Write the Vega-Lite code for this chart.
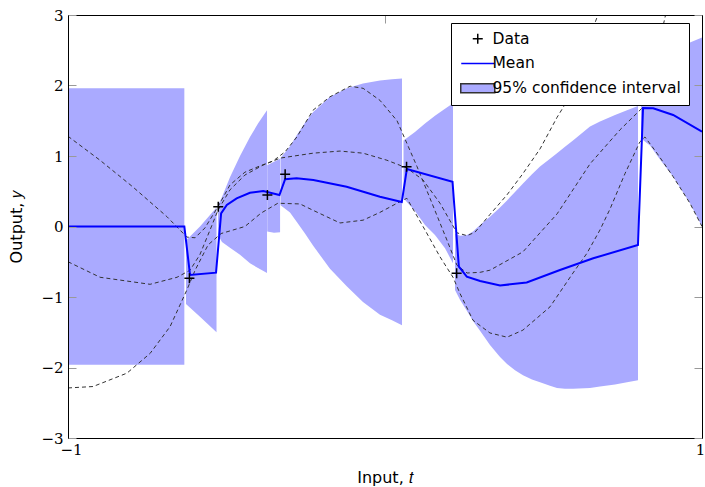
{
  "$schema": "https://vega.github.io/schema/vega-lite/v6.json",
  "width": 634,
  "height": 423,
  "autosize": {"type": "none"},
  "padding": {"left": 68, "top": 15, "right": 3, "bottom": 49},
  "background": "white",
  "config": {"view": {"stroke": null}},
  "datasets": {
    "band": [
      {"seg": "A", "x": -1.0, "lo": -1.96, "hi": 1.96},
      {"seg": "A", "x": -0.633, "lo": -1.96, "hi": 1.96},
      {"seg": "B", "x": -0.6278, "lo": -1.10, "hi": -0.20},
      {"seg": "B", "x": -0.5836, "lo": -1.28, "hi": 0.0},
      {"seg": "B", "x": -0.5315, "lo": -1.50, "hi": 0.27},
      {"seg": "C", "x": -0.5268, "lo": -0.12, "hi": 0.30},
      {"seg": "C", "x": -0.5142, "lo": -0.22, "hi": 0.42},
      {"seg": "C", "x": -0.4890, "lo": -0.30, "hi": 0.70},
      {"seg": "C", "x": -0.4574, "lo": -0.40, "hi": 1.00},
      {"seg": "C", "x": -0.4259, "lo": -0.52, "hi": 1.27},
      {"seg": "C", "x": -0.4006, "lo": -0.59, "hi": 1.46},
      {"seg": "C", "x": -0.3722, "lo": -0.66, "hi": 1.65},
      {"seg": "D", "x": -0.3715, "lo": -0.07, "hi": 0.87},
      {"seg": "D", "x": -0.3502, "lo": -0.09, "hi": 0.92},
      {"seg": "D", "x": -0.3310, "lo": -0.08, "hi": 0.96},
      {"seg": "E", "x": -0.3295, "lo": 0.30, "hi": 0.97},
      {"seg": "E", "x": -0.2997, "lo": 0.20, "hi": 1.14},
      {"seg": "E", "x": -0.2776, "lo": 0.06, "hi": 1.30},
      {"seg": "E", "x": -0.2524, "lo": -0.10, "hi": 1.47},
      {"seg": "E", "x": -0.2271, "lo": -0.27, "hi": 1.62},
      {"seg": "E", "x": -0.1735, "lo": -0.60, "hi": 1.84},
      {"seg": "E", "x": -0.1199, "lo": -0.85, "hi": 1.96},
      {"seg": "E", "x": -0.0694, "lo": -1.07, "hi": 2.03},
      {"seg": "E", "x": -0.0158, "lo": -1.25, "hi": 2.07},
      {"seg": "E", "x": 0.0221, "lo": -1.33, "hi": 2.09},
      {"seg": "E", "x": 0.0536, "lo": -1.40, "hi": 2.10},
      {"seg": "F", "x": 0.0584, "lo": 0.40, "hi": 1.22},
      {"seg": "F", "x": 0.0946, "lo": 0.22, "hi": 1.34},
      {"seg": "F", "x": 0.1262, "lo": 0.02, "hi": 1.46},
      {"seg": "F", "x": 0.1577, "lo": -0.12, "hi": 1.57},
      {"seg": "F", "x": 0.1893, "lo": -0.31, "hi": 1.67},
      {"seg": "F", "x": 0.2145, "lo": -0.52, "hi": 1.75},
      {"seg": "G", "x": 0.2208, "lo": -0.90, "hi": -0.10},
      {"seg": "G", "x": 0.2366, "lo": -1.04, "hi": -0.13},
      {"seg": "G", "x": 0.2587, "lo": -1.20, "hi": -0.12},
      {"seg": "G", "x": 0.2776, "lo": -1.34, "hi": -0.07},
      {"seg": "G", "x": 0.2997, "lo": -1.48, "hi": 0.02},
      {"seg": "G", "x": 0.3312, "lo": -1.68, "hi": 0.14},
      {"seg": "G", "x": 0.3628, "lo": -1.85, "hi": 0.27},
      {"seg": "G", "x": 0.3849, "lo": -1.95, "hi": 0.37},
      {"seg": "G", "x": 0.4101, "lo": -2.04, "hi": 0.49},
      {"seg": "G", "x": 0.4353, "lo": -2.11, "hi": 0.61},
      {"seg": "G", "x": 0.4637, "lo": -2.17, "hi": 0.74},
      {"seg": "G", "x": 0.4890, "lo": -2.21, "hi": 0.85},
      {"seg": "G", "x": 0.5205, "lo": -2.26, "hi": 0.96},
      {"seg": "G", "x": 0.5426, "lo": -2.29, "hi": 1.04},
      {"seg": "G", "x": 0.5678, "lo": -2.30, "hi": 1.13},
      {"seg": "G", "x": 0.5930, "lo": -2.30, "hi": 1.22},
      {"seg": "G", "x": 0.6467, "lo": -2.29, "hi": 1.42},
      {"seg": "G", "x": 0.6782, "lo": -2.27, "hi": 1.49},
      {"seg": "G", "x": 0.7256, "lo": -2.24, "hi": 1.58},
      {"seg": "G", "x": 0.7634, "lo": -2.21, "hi": 1.65},
      {"seg": "G", "x": 0.7981, "lo": -2.18, "hi": 1.71},
      {"seg": "H", "x": 0.8076, "lo": 1.25, "hi": 2.05},
      {"seg": "H", "x": 0.8360, "lo": 1.15, "hi": 2.20},
      {"seg": "H", "x": 0.8675, "lo": 0.95, "hi": 2.32},
      {"seg": "H", "x": 0.9085, "lo": 0.71, "hi": 2.45},
      {"seg": "H", "x": 0.9621, "lo": 0.33, "hi": 2.61},
      {"seg": "H", "x": 1.0, "lo": 0.0, "hi": 2.68}
    ],
    "mean": [
      {"x": -1.0, "y": 0.0}, {"x": -0.633, "y": 0.0}, {"x": -0.615, "y": -0.688},
      {"x": -0.533, "y": -0.655}, {"x": -0.517, "y": 0.187}, {"x": -0.499, "y": 0.305},
      {"x": -0.468, "y": 0.40}, {"x": -0.426, "y": 0.479}, {"x": -0.384, "y": 0.504},
      {"x": -0.333, "y": 0.447}, {"x": -0.315, "y": 0.67}, {"x": -0.279, "y": 0.684},
      {"x": -0.226, "y": 0.66}, {"x": -0.121, "y": 0.565}, {"x": -0.016, "y": 0.423},
      {"x": 0.053, "y": 0.348}, {"x": 0.069, "y": 0.816}, {"x": 0.213, "y": 0.635},
      {"x": 0.229, "y": -0.333}, {"x": 0.233, "y": -0.57}, {"x": 0.258, "y": -0.712},
      {"x": 0.30, "y": -0.773}, {"x": 0.363, "y": -0.837}, {"x": 0.447, "y": -0.794},
      {"x": 0.552, "y": -0.617}, {"x": 0.657, "y": -0.451}, {"x": 0.798, "y": -0.262},
      {"x": 0.814, "y": 1.681}, {"x": 0.846, "y": 1.677}, {"x": 0.909, "y": 1.582},
      {"x": 1.0, "y": 1.345}
    ],
    "samples": [
      {"s": "P", "x": -1.0, "y": 1.28}, {"s": "P", "x": -0.899, "y": 0.94}, {"s": "P", "x": -0.795, "y": 0.56},
      {"s": "P", "x": -0.688, "y": 0.14}, {"s": "P", "x": -0.625, "y": -0.15}, {"s": "P", "x": -0.599, "y": -0.16},
      {"s": "P", "x": -0.568, "y": -0.02}, {"s": "P", "x": -0.527, "y": 0.28}, {"s": "P", "x": -0.489, "y": 0.59},
      {"s": "P", "x": -0.442, "y": 0.77}, {"s": "P", "x": -0.394, "y": 0.86}, {"s": "P", "x": -0.353, "y": 0.93},
      {"s": "P", "x": -0.315, "y": 1.06}, {"s": "P", "x": -0.278, "y": 1.27}, {"s": "P", "x": -0.227, "y": 1.65},
      {"s": "P", "x": -0.1735, "y": 1.84}, {"s": "P", "x": -0.110, "y": 1.99}, {"s": "P", "x": -0.069, "y": 1.96},
      {"s": "P", "x": -0.016, "y": 1.79}, {"s": "P", "x": 0.038, "y": 1.50}, {"s": "P", "x": 0.069, "y": 1.18},
      {"s": "P", "x": 0.101, "y": 0.85}, {"s": "P", "x": 0.142, "y": 0.40}, {"s": "P", "x": 0.196, "y": -0.20},
      {"s": "P", "x": 0.227, "y": -0.55}, {"s": "P", "x": 0.259, "y": -0.66}, {"s": "P", "x": 0.300, "y": -0.65},
      {"s": "P", "x": 0.331, "y": -0.62}, {"s": "P", "x": 0.435, "y": -0.36}, {"s": "P", "x": 0.543, "y": 0.18},
      {"s": "P", "x": 0.647, "y": 0.89}, {"s": "P", "x": 0.741, "y": 1.37}, {"s": "P", "x": 0.811, "y": 1.68},
      {"s": "P", "x": 0.84, "y": 2.15}, {"s": "P", "x": 0.865, "y": 2.6}, {"s": "P", "x": 0.89, "y": 3.1},
      {"s": "Q", "x": -1.0, "y": -0.50}, {"s": "Q", "x": -0.899, "y": -0.72}, {"s": "Q", "x": -0.741, "y": -0.82},
      {"s": "Q", "x": -0.656, "y": -0.72}, {"s": "Q", "x": -0.615, "y": -0.62}, {"s": "Q", "x": -0.584, "y": -0.40},
      {"s": "Q", "x": -0.552, "y": -0.05}, {"s": "Q", "x": -0.527, "y": 0.23}, {"s": "Q", "x": -0.489, "y": 0.52},
      {"s": "Q", "x": -0.442, "y": 0.73}, {"s": "Q", "x": -0.385, "y": 0.87}, {"s": "Q", "x": -0.331, "y": 0.97},
      {"s": "Q", "x": -0.227, "y": 1.04}, {"s": "Q", "x": -0.142, "y": 1.07}, {"s": "Q", "x": -0.069, "y": 1.04},
      {"s": "Q", "x": 0.006, "y": 0.94}, {"s": "Q", "x": 0.069, "y": 0.83}, {"s": "Q", "x": 0.120, "y": 0.66},
      {"s": "Q", "x": 0.1735, "y": 0.33}, {"s": "Q", "x": 0.227, "y": -0.09}, {"s": "Q", "x": 0.259, "y": -0.13},
      {"s": "Q", "x": 0.284, "y": -0.08}, {"s": "Q", "x": 0.331, "y": 0.17}, {"s": "Q", "x": 0.385, "y": 0.45},
      {"s": "Q", "x": 0.435, "y": 0.75}, {"s": "Q", "x": 0.489, "y": 1.10}, {"s": "Q", "x": 0.543, "y": 1.55},
      {"s": "Q", "x": 0.584, "y": 1.85}, {"s": "Q", "x": 0.62, "y": 2.35}, {"s": "Q", "x": 0.655, "y": 2.8},
      {"s": "Q", "x": 0.68, "y": 3.1},
      {"s": "R", "x": -1.0, "y": -2.29}, {"s": "R", "x": -0.921, "y": -2.27}, {"s": "R", "x": -0.814, "y": -2.08},
      {"s": "R", "x": -0.741, "y": -1.80}, {"s": "R", "x": -0.678, "y": -1.42}, {"s": "R", "x": -0.625, "y": -0.90},
      {"s": "R", "x": -0.599, "y": -0.62}, {"s": "R", "x": -0.558, "y": -0.26}, {"s": "R", "x": -0.517, "y": -0.10},
      {"s": "R", "x": -0.442, "y": 0.0}, {"s": "R", "x": -0.391, "y": 0.19}, {"s": "R", "x": -0.338, "y": 0.33},
      {"s": "R", "x": -0.268, "y": 0.32}, {"s": "R", "x": -0.227, "y": 0.23}, {"s": "R", "x": -0.142, "y": 0.05},
      {"s": "R", "x": -0.069, "y": 0.09}, {"s": "R", "x": -0.016, "y": 0.20}, {"s": "R", "x": 0.038, "y": 0.33},
      {"s": "R", "x": 0.069, "y": 0.40}, {"s": "R", "x": 0.120, "y": 0.0}, {"s": "R", "x": 0.1735, "y": -0.43},
      {"s": "R", "x": 0.2145, "y": -0.72}, {"s": "R", "x": 0.2366, "y": -0.95}, {"s": "R", "x": 0.2776, "y": -1.33},
      {"s": "R", "x": 0.331, "y": -1.51}, {"s": "R", "x": 0.385, "y": -1.57}, {"s": "R", "x": 0.435, "y": -1.47},
      {"s": "R", "x": 0.5205, "y": -1.14}, {"s": "R", "x": 0.593, "y": -0.66}, {"s": "R", "x": 0.637, "y": -0.38},
      {"s": "R", "x": 0.678, "y": -0.05}, {"s": "R", "x": 0.710, "y": 0.25}, {"s": "R", "x": 0.757, "y": 0.75},
      {"s": "R", "x": 0.804, "y": 1.20}, {"s": "R", "x": 0.820, "y": 1.27}, {"s": "R", "x": 0.858, "y": 1.04},
      {"s": "R", "x": 0.9085, "y": 0.71}, {"s": "R", "x": 0.962, "y": 0.33}, {"s": "R", "x": 1.0, "y": 0.0}
    ],
    "obs": [
      {"series": "Data", "x": -0.617, "y": -0.735},
      {"series": "Data", "x": -0.526, "y": 0.281},
      {"series": "Data", "x": -0.371, "y": 0.447},
      {"series": "Data", "x": -0.315, "y": 0.740},
      {"series": "Data", "x": 0.068, "y": 0.848},
      {"series": "Data", "x": 0.226, "y": -0.664},
      {"series": "Data", "x": 0.814, "y": 1.780}
    ]
  },
  "layer": [
    {
      "data": {"name": "band"},
      "mark": {"type": "area", "color": "#aaaaff", "opacity": 1, "clip": true},
      "encoding": {
        "x": {"field": "x", "type": "quantitative",
          "scale": {"domain": [-1, 1], "nice": false, "zero": false},
          "axis": {"values": [-1, 0, 1], "format": "d", "orient": "bottom", "tickSize": -8, "tickColor": "#999999", "tickWidth": 1,
            "domainColor": "black", "domainWidth": 1, "grid": false, "zindex": 1,
            "labelFont": "DejaVu Serif", "labelFontSize": 15, "labelColor": "black", "labelPadding": 12, "labelFlush": false,
            "labelOffset": {"condition": [{"test": "datum.value === 1", "value": -2}, {"test": "datum.value === -1", "value": 3}], "value": 0},
            "title": "Input, 𝑡", "titleFont": "DejaVu Sans", "titleFontSize": 16, "titleFontWeight": "normal", "titleColor": "black",
            "titleX": 317, "titleY": 44, "titleBaseline": "alphabetic", "titleAlign": "center"}},
        "y": {"field": "lo", "type": "quantitative",
          "scale": {"domain": [-3, 3], "nice": false, "zero": false},
          "axis": {"values": [-3, -2, -1, 0, 1, 2, 3], "format": "d", "orient": "left", "tickSize": -8, "tickColor": "#999999", "tickWidth": 1,
            "domainColor": "black", "domainWidth": 1, "grid": false, "zindex": 1,
            "labelFont": "DejaVu Serif", "labelFontSize": 15, "labelColor": "black", "labelPadding": 13, "labelFlush": false,
            "title": "Output, 𝑦", "titleFont": "DejaVu Sans", "titleFontSize": 16, "titleFontWeight": "normal", "titleColor": "black",
            "titleAngle": 270, "titleX": -47, "titleY": 211.5, "titleBaseline": "alphabetic", "titleAlign": "center"}},
        "y2": {"field": "hi"},
        "detail": {"field": "seg"}
      }
    },
    {
      "data": {"name": "samples"},
      "mark": {"type": "line", "color": "#333333", "strokeWidth": 1, "strokeDash": [4, 3], "clip": true},
      "encoding": {
        "x": {"field": "x", "type": "quantitative", "axis": null},
        "y": {"field": "y", "type": "quantitative", "axis": null},
        "detail": {"field": "s"}
      }
    },
    {
      "data": {"name": "mean"},
      "mark": {"type": "line", "color": "#0000ff", "strokeWidth": 2, "clip": true},
      "encoding": {
        "x": {"field": "x", "type": "quantitative",
          "axis": {"values": [-1, 0, 1], "orient": "top", "labels": false, "title": null, "tickSize": -8, "tickColor": "#999999",
            "domainColor": "black", "domainWidth": 1, "grid": false, "zindex": 1}},
        "y": {"field": "y", "type": "quantitative",
          "axis": {"values": [-3, -2, -1, 0, 1, 2, 3], "orient": "right", "labels": false, "title": null, "tickSize": -8, "tickColor": "#999999",
            "domainColor": "black", "domainWidth": 1, "grid": false, "zindex": 1}}
      }
    },
    {
      "data": {"name": "obs"},
      "mark": {"type": "point", "filled": true, "strokeWidth": 1.5, "size": 100, "opacity": 1},
      "encoding": {
        "x": {"field": "x", "type": "quantitative", "axis": null},
        "y": {"field": "y", "type": "quantitative", "axis": null},
        "shape": {"field": "series", "type": "nominal",
          "scale": {"domain": ["Data", "Mean", "95% confidence interval"],
            "range": ["M-1,0H1M0,-1V1", "M-3.3,0H3.3", "M-3.4,-0.9H3.4V0.9H-3.4Z"]},
          "legend": {"title": null, "orient": "none", "legendX": 383, "legendY": 8, "padding": 8,
            "symbolOffset": 11, "labelOffset": 7, "rowPadding": 7.7, "symbolSize": 100, "symbolStrokeWidth": 1.5,
            "labelFont": "DejaVu Sans", "labelFontSize": 15.5, "labelColor": "black", "labelLimit": 400,
            "strokeColor": "black", "fillColor": "white", "cornerRadius": 0}},
        "stroke": {"field": "series", "type": "nominal",
          "scale": {"domain": ["Data", "Mean", "95% confidence interval"], "range": ["black", "#0000ff", "#333333"]},
          "legend": {"title": null, "orient": "none", "legendX": 383, "legendY": 8, "padding": 8,
            "symbolOffset": 11, "labelOffset": 7, "rowPadding": 7.7, "symbolSize": 100, "symbolStrokeWidth": 1.5,
            "labelFont": "DejaVu Sans", "labelFontSize": 15.5, "labelColor": "black", "labelLimit": 400,
            "strokeColor": "black", "fillColor": "white", "cornerRadius": 0}},
        "fill": {"field": "series", "type": "nominal",
          "scale": {"domain": ["Data", "Mean", "95% confidence interval"], "range": ["rgba(0,0,0,0)", "rgba(0,0,0,0)", "#aaaaff"]},
          "legend": {"title": null, "orient": "none", "legendX": 383, "legendY": 8, "padding": 8,
            "symbolOffset": 11, "labelOffset": 7, "rowPadding": 7.7, "symbolSize": 100, "symbolStrokeWidth": 1.5,
            "labelFont": "DejaVu Sans", "labelFontSize": 15.5, "labelColor": "black", "labelLimit": 400,
            "strokeColor": "black", "fillColor": "white", "cornerRadius": 0}}
      }
    }
  ],
  "resolve": {"axis": {"x": "independent", "y": "independent"}}
}
